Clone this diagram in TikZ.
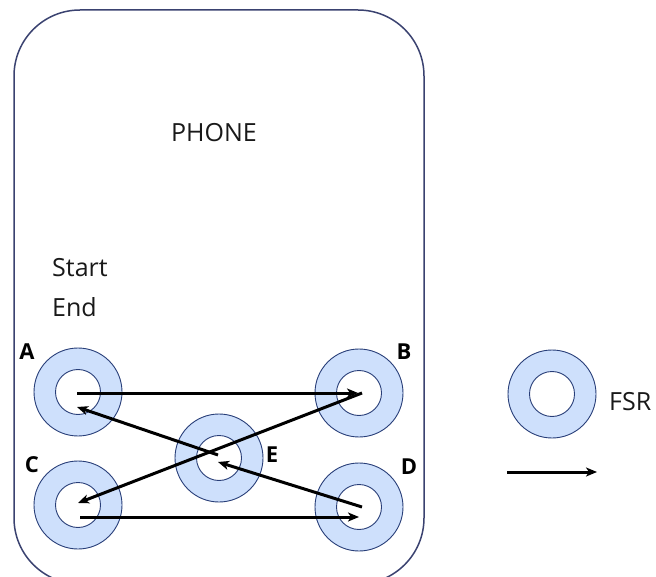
\documentclass[tikz,border=0pt]{standalone}
\usepackage{fontspec}
\setmainfont{Open Sans}
\usetikzlibrary{arrows.meta}
\definecolor{ringfill}{RGB}{206,224,252}
\definecolor{ringline}{RGB}{40,62,120}
\definecolor{caseline}{RGB}{58,66,112}
\tikzset{
  outerring/.style={circle, minimum size=88pt, inner sep=0pt, fill=ringfill, draw=ringline, line width=0.9pt},
  innerring/.style={circle, minimum size=45pt, inner sep=0pt, fill=white, draw=ringline, line width=0.9pt},
  pathline/.style={line width=3pt, -{Stealth[length=11pt,width=9pt,inset=3pt]}},
  lbl/.style={font=\fontsize{22}{24}\selectfont\bfseries, inner sep=0pt},
  txt/.style={font=\fontsize{25}{29}\selectfont, inner sep=0pt, text=black!90}
}
\begin{document}
\begin{tikzpicture}[x=1pt,y=-1pt]
\useasboundingbox (0,0) rectangle (656,577);
\clip (0,0) rectangle (656,577);
% phone case
\draw[caseline, line width=1.5pt, rounded corners=66pt] (14,10) rectangle (424,584);
\node[txt] (phone) at (214,133) {PHONE};
\node[txt, anchor=base west] (start) at (52,277) {Start};
\node[txt, anchor=base west] (end) at (52,317) {End};

% sensor rings
\foreach \n/\x/\y in {A/78/392, B/359/393, C/78/505, D/359/507, E/219/458}{
  \node[outerring] (\n) at (\x,\y) {};
  \node[innerring] (\n i) at (\x,\y) {};
}
\node[lbl] (la) at (27,352) {A};
\node[lbl] (lb) at (404,352) {B};
\node[lbl] (lc) at (32,465) {C};
\node[lbl] (le) at (272,455) {E};
\node[lbl] (ld) at (409,467) {D};

% swipe path end points
\coordinate (a0) at (77,393);
\coordinate (b1) at (358,393);
\coordinate (b0) at (362,393);
\coordinate (c1) at (78,503);
\coordinate (c0) at (80,517);
\coordinate (d1) at (359,517);
\coordinate (d0) at (362,507);
\coordinate (e1) at (218,462);
\coordinate (e0) at (218,455);
\coordinate (a1) at (77,407);

\draw[pathline] (a0) -- (b1);
\draw[pathline] (b0) -- (c1);
\draw[pathline] (c0) -- (d1);
\draw[pathline] (d0) -- (e1);
\draw[pathline] (e0) -- (a1);

% legend
\node[outerring] (F) at (552,394) {};
\node[innerring] (F i) at (552,394) {};
\node[txt, anchor=base west] (fsr) at (609,410) {FSR};
\coordinate (l0) at (507,472);
\coordinate (l1) at (597,472);
\draw[pathline] (l0) -- (l1);
\end{tikzpicture}
\end{document}
